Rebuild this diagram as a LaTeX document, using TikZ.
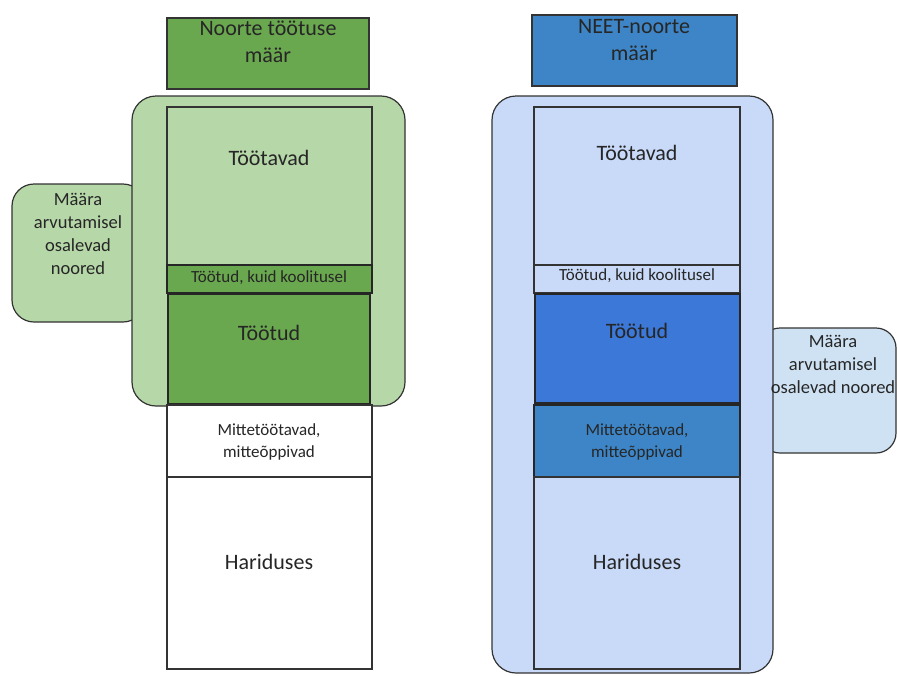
\documentclass[tikz,border=0pt]{standalone}
\usepackage{fontspec}
\setmainfont{Carlito}

\definecolor{greendark}{HTML}{6AA84F}
\definecolor{greenlight}{HTML}{B6D7A8}
\definecolor{bluehead}{HTML}{3D85C6}
\definecolor{bluedark}{HTML}{3C78D8}
\definecolor{bluelight}{HTML}{C9DAF8}
\definecolor{bluepale}{HTML}{CFE2F3}

\tikzset{
	bigtext/.style={font=\fontsize{22}{27}\selectfont, align=center, text=black!85},
	tabtext/.style={font=\fontsize{18.5}{23}\selectfont, align=center, text=black!85},
	smalltext/.style={font=\fontsize{17}{22}\selectfont, align=center, text=black!85},
	thinline/.style={draw=black!80, line width=1.2pt},
	thickline/.style={draw=black!85, line width=2.4pt}
}

\begin{document}
\begin{tikzpicture}[x=1pt, y=-1pt]

		\useasboundingbox (0,0) rectangle (897,675);

		% left: noorte tootuse maar
		\coordinate (LT) at (167,107);
		\coordinate (LA) at (372,265);
		\coordinate (LB) at (372,293);
		\coordinate (LC) at (372,404);
		\coordinate (LD) at (372,477);
		\coordinate (LE) at (372,669);

		\draw[thinline, fill=greenlight, rounded corners=22] (12,184) rectangle (145,322);
		\draw[thinline, fill=greenlight, rounded corners=24] (132,96) rectangle (405,406);

		\draw[thinline, fill=greenlight] (LT) rectangle (LA);
		\draw[thickline, fill=greendark] (167,265) rectangle (LB);
		\draw[thickline, fill=greendark] (168,294) rectangle (370,404);
		\draw[thinline, fill=white] (167,405) rectangle (LD);
		\draw[thinline, fill=white] (167,477) rectangle (LE);

		\draw[thinline, fill=greendark] (167,18) rectangle (369,89);

		\node[bigtext] (lhead) at (268,42) {Noorte töötuse\\määr};
		\node[tabtext] (ltab) at (78,234) {Määra\\arvutamisel\\osalevad\\noored};
		\node[bigtext] (ltootavad) at (269,158) {Töötavad};
		\node[smalltext] (lkool) at (269,278) {Töötud, kuid koolitusel};
		\node[bigtext] (ltootud) at (269,333) {Töötud};
		\node[smalltext] (lmitte) at (269,442) {Mittetöötavad,\\mitteõppivad};
		\node[bigtext] (lhar) at (269,562) {Hariduses};

		% right: NEET-noorte maar
		\coordinate (RT) at (534,107);
		\coordinate (RA) at (740,265);
		\coordinate (RB) at (740,293);
		\coordinate (RC) at (740,403);
		\coordinate (RD) at (740,477);
		\coordinate (RE) at (740,669);

		\draw[thinline, fill=bluepale, rounded corners=20] (760,328) rectangle (896,453);
		\draw[thinline, fill=bluelight, rounded corners=24] (492,96) rectangle (773,673);

		\draw[thinline, fill=bluelight] (RT) rectangle (RA);
		\draw[thinline, fill=bluelight] (534,265) rectangle (RB);
		\draw[thickline, fill=bluedark] (535,294) rectangle (RC);
		\draw[thickline, fill=bluehead] (534,405) rectangle (RD);
		\draw[thinline, fill=bluelight] (534,477) rectangle (RE);

		\draw[thinline, fill=bluehead] (532,15) rectangle (737,86);

		\node[bigtext] (rhead) at (634,40) {NEET-noorte\\määr};
		\node[tabtext] (rtab) at (833,364) {Määra\\arvutamisel\\osalevad noored};
		\node[bigtext] (rtootavad) at (637,153) {Töötavad};
		\node[smalltext] (rkool) at (637,276) {Töötud, kuid koolitusel};
		\node[bigtext] (rtootud) at (637,331) {Töötud};
		\node[smalltext] (rmitte) at (637,442) {Mittetöötavad,\\mitteõppivad};
		\node[bigtext] (rhar) at (637,562) {Hariduses};

\end{tikzpicture}
\end{document}
